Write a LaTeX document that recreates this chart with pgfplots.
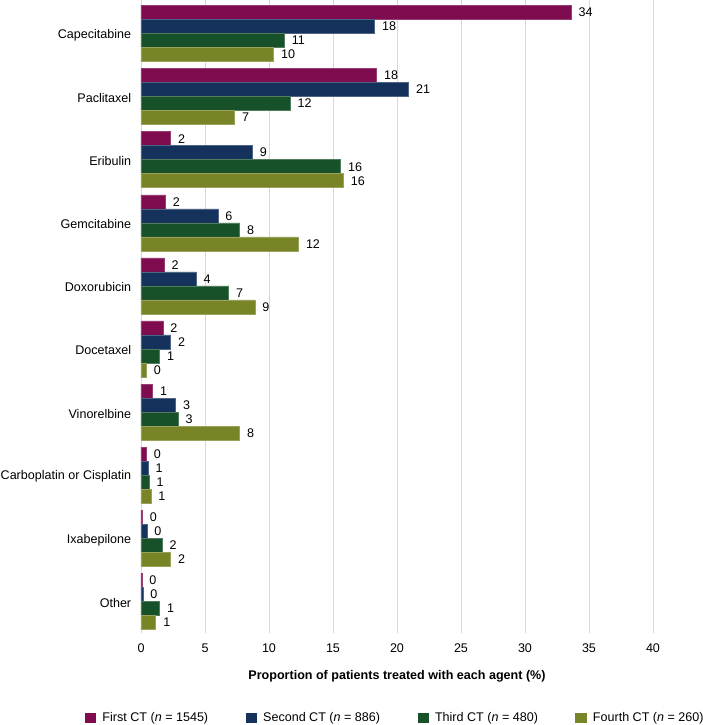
\documentclass[border=0pt]{standalone}
\usepackage{pgfplots}
\pgfplotsset{compat=1.18}
\usepackage{fontspec}
\setmainfont{Liberation Sans}
\definecolor{cA}{HTML}{7E0C4F}
\definecolor{cB}{HTML}{14325C}
\definecolor{cC}{HTML}{17512A}
\definecolor{cD}{HTML}{798427}
\definecolor{gridc}{HTML}{D9D9D9}
\begin{document}
\begin{tikzpicture}[font=\fontsize{12.6}{15}\selectfont]
\begin{axis}[
  name=ax,
  scale only axis,
  width=512bp, height=633bp,
  xbar,
  y dir=reverse,
  xmin=0, xmax=40,
  ymin=-0.53, ymax=9.5,
  xtick={0,5,...,40},
  ytick={0,...,9},
  yticklabels={Capecitabine,Paclitaxel,Eribulin,Gemcitabine,Doxorubicin,Docetaxel,Vinorelbine,Carboplatin or Cisplatin,Ixabepilone,Other},
  major tick length=0pt,
  axis line style={draw=none},
  xmajorgrids,
  grid style={gridc, line width=0.8pt},
  /pgf/number format/assume math mode=true,
  xticklabel style={yshift=-7bp},
  yticklabel style={xshift=-6.3bp, yshift=-1.5bp},
  xlabel={\bfseries Proportion of patients treated with each agent (\%)},
  xlabel style={at={(axis description cs:0.5,0)}, anchor=center, yshift=-43bp},
  bar width=0.222,
  nodes near coords,
  point meta=explicit symbolic,
  nodes near coords style={anchor=west, xshift=4bp, text=black},
  legend columns=4,
  legend style={draw=none, fill=none, at={(axis description cs:0,0)}, anchor=west,
    xshift=-56bp, yshift=-85bp,
    inner sep=0pt, outer sep=0pt,
    nodes={inner sep=2bp},
    /tikz/every odd column/.append style={column sep=4bp},
    /tikz/every even column/.append style={column sep=35.5bp}},
  legend image code/.code={\fill[#1, draw=none] (0bp,-4.75bp) rectangle (11.5bp,4.75bp);},
]
\addplot[fill=cA, draw=cA!80!white, line width=0.5pt, bar shift=-0.333] table[x=v, y=i, meta=l] {
i v l
0 33.6 34
1 18.4 18
2 2.3 2
3 1.9 2
4 1.8 2
5 1.7 2
6 0.9 1
7 0.42 0
8 0.1 0
9 0.07 0
};
\addplot[fill=cB, draw=cB!75!white, line width=0.5pt, bar shift=-0.111] table[x=v, y=i, meta=l] {
i v l
0 18.25 18
1 20.9 21
2 8.7 9
3 6.0 6
4 4.3 4
5 2.3 2
6 2.7 3
7 0.56 1
8 0.45 0
9 0.14 0
};
\addplot[fill=cC, draw=cC!75!white, line width=0.5pt, bar shift=0.111] table[x=v, y=i, meta=l] {
i v l
0 11.2 11
1 11.65 12
2 15.6 16
3 7.7 8
4 6.85 7
5 1.45 1
6 2.9 3
7 0.63 1
8 1.64 2
9 1.45 1
};
\addplot[fill=cD, draw=cD!75!white, line width=0.5pt, bar shift=0.333] table[x=v, y=i, meta=l] {
i v l
0 10.35 10
1 7.3 7
2 15.8 16
3 12.3 12
4 8.9 9
5 0.42 0
6 7.7 8
7 0.77 1
8 2.3 2
9 1.15 1
};
\legend{First CT (\textit{n} = 1545), Second CT (\textit{n} = 886), Third CT (\textit{n} = 480), Fourth CT (\textit{n} = 260)}
\end{axis}
\pgfresetboundingbox
\path[use as bounding box] ([xshift=-141bp]ax.north west) rectangle ([xshift=50bp,yshift=-92bp]ax.south east);
\end{tikzpicture}
\end{document}
